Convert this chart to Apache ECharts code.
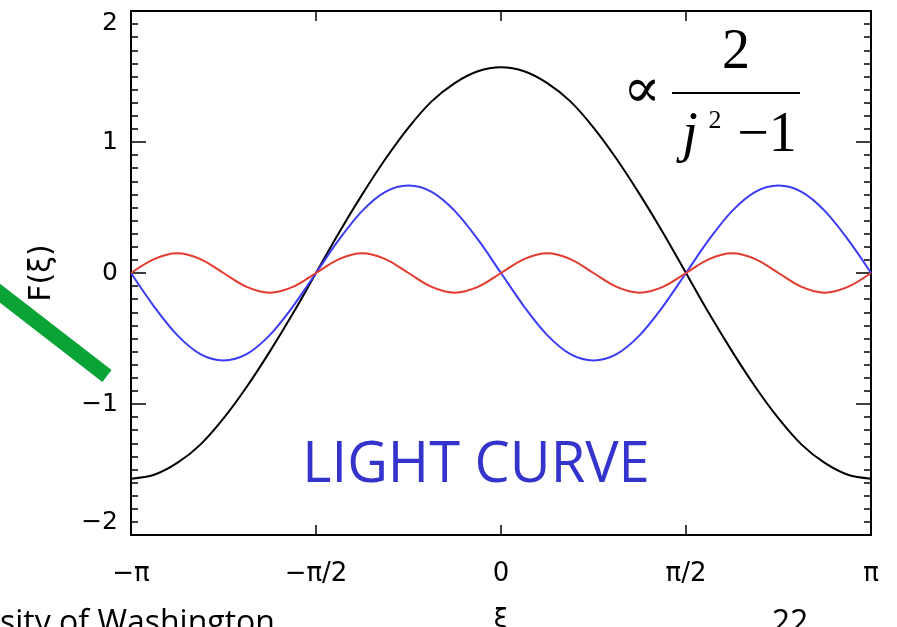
<!DOCTYPE html>
<html><head><meta charset="utf-8">
<script src="https://cdn.jsdelivr.net/npm/echarts@6/dist/echarts.min.js"></script>
<style>html,body{margin:0;padding:0;background:#fff}#c{width:897px;height:627px}</style>
</head><body><div id="c"></div>
<script>
// xi in units of pi
const xi = [-1, -0.9375, -0.875, -0.8125, -0.75, -0.6875, -0.625, -0.5625, -0.5, -0.4375, -0.375, -0.3125, -0.25, -0.1875, -0.125, -0.0625, 0,
  0.0625, 0.125, 0.1875, 0.25, 0.3125, 0.375, 0.4375, 0.5, 0.5625, 0.625, 0.6875, 0.75, 0.8125, 0.875, 0.9375, 1];
const blackVals = [-1.57, -1.54, -1.45, -1.31, -1.11, -0.87, -0.60, -0.31, 0, 0.31, 0.60, 0.87, 1.11, 1.31, 1.45, 1.54, 1.57,
  1.54, 1.45, 1.31, 1.11, 0.87, 0.60, 0.31, 0, -0.31, -0.60, -0.87, -1.11, -1.31, -1.45, -1.54, -1.57];
const blueVals = [0, -0.256, -0.474, -0.619, -0.667, -0.619, -0.474, -0.256, 0, 0.256, 0.474, 0.619, 0.667, 0.619, 0.474, 0.256, 0,
  -0.256, -0.474, -0.619, -0.667, -0.619, -0.474, -0.256, 0, 0.256, 0.474, 0.619, 0.667, 0.619, 0.474, 0.256, 0];
const redVals = [0, 0.106, 0.15, 0.106, 0, -0.106, -0.15, -0.106, 0, 0.106, 0.15, 0.106, 0, -0.106, -0.15, -0.106, 0,
  0.106, 0.15, 0.106, 0, -0.106, -0.15, -0.106, 0, 0.106, 0.15, 0.106, 0, -0.106, -0.15, -0.106, 0];
const xTickLabels = ['\u2212\u03c0', '\u2212\u03c0/2', '0', '\u03c0/2', '\u03c0'];
const yTickLabels = {'-2': '\u22122', '-1': '\u22121', '0': '0', '1': '1', '2': '2'};

const pairs = vals => xi.map((x, i) => [x, vals[i]]);
const chart = echarts.init(document.getElementById('c'));
const axisFont = '"DejaVu Sans", sans-serif';
const lineSt = {color: '#000', width: 2};
const tickSt = {color: '#000', width: 1.5};
const SM = 0.33;
chart.setOption({
  animation: false,
  backgroundColor: '#fff',
  grid: {left: 131, right: 26, top: 11, bottom: 92, containLabel: false, outerBoundsMode: 'none'},
  xAxis: [{
    type: 'value', min: -1, max: 1, interval: 0.5, position: 'bottom',
    axisLine: {show: true, onZero: false, lineStyle: lineSt},
    axisTick: {show: true, inside: true, length: 10, lineStyle: tickSt},
    splitLine: {show: false},
    axisLabel: {show: true, margin: 26, fontSize: 26, color: '#000', fontFamily: axisFont,
      showMinLabel: true, showMaxLabel: true,
      formatter: v => xTickLabels[Math.round((v + 1) * 2)]},
    name: '\u03be', nameLocation: 'middle', nameGap: 72,
    nameTextStyle: {fontSize: 26, color: '#000', fontFamily: axisFont}
  }, {
    type: 'value', min: -1, max: 1, interval: 0.5, position: 'top',
    axisLine: {show: true, onZero: false, lineStyle: lineSt},
    axisTick: {show: true, inside: true, length: 10, lineStyle: tickSt},
    splitLine: {show: false}, axisLabel: {show: false}
  }],
  yAxis: [{
    type: 'value', min: -2, max: 2, interval: 1, position: 'left',
    axisLine: {show: true, onZero: false, lineStyle: lineSt},
    axisTick: {show: true, inside: true, length: 15, lineStyle: tickSt},
    minorTick: {show: true, splitNumber: 10, length: 7, lineStyle: tickSt},
    splitLine: {show: false}, minorSplitLine: {show: false},
    axisLabel: {show: true, margin: 13, fontSize: 25, color: '#000', fontFamily: axisFont,
      showMinLabel: true, showMaxLabel: true,
      verticalAlignMaxLabel: 'top', verticalAlignMinLabel: 'bottom',
      formatter: v => yTickLabels[String(Math.round(v))]},
    name: 'F(\u03be)', nameLocation: 'middle', nameGap: 74, nameRotate: 90,
    nameTextStyle: {fontSize: 30, color: '#000', fontFamily: axisFont}
  }, {
    type: 'value', min: -2, max: 2, interval: 1, position: 'right',
    axisLine: {show: true, onZero: false, lineStyle: lineSt},
    axisTick: {show: true, inside: true, length: 15, lineStyle: tickSt},
    minorTick: {show: true, splitNumber: 10, length: 7, lineStyle: tickSt},
    splitLine: {show: false}, axisLabel: {show: false}
  }],
  series: [
    {type: 'line', name: 'j=1', data: pairs(blackVals), smooth: SM, symbol: 'none',
      xAxisIndex: 0, yAxisIndex: 0, lineStyle: {color: '#000', width: 2}},
    {type: 'line', name: 'j=2', data: pairs(blueVals), smooth: SM, symbol: 'none',
      xAxisIndex: 0, yAxisIndex: 0, lineStyle: {color: '#3c3cf5', width: 2}},
    {type: 'line', name: 'j=4', data: pairs(redVals), smooth: SM, symbol: 'none',
      xAxisIndex: 0, yAxisIndex: 0, lineStyle: {color: '#e53a2e', width: 2}}
  ],
  graphic: [
    {type: 'line', shape: {x1: -12, y1: 284, x2: 107, y2: 376},
      style: {stroke: '#0aa336', lineWidth: 15, lineCap: 'butt'}, z: 10},
    {type: 'text', x: 476, y: 466, z: 10,
      style: {text: 'LIGHT CURVE', fill: '#3434cc', font: '56px "Open Sans", sans-serif', align: 'center', verticalAlign: 'middle'}},
    {type: 'text', x: 642, y: 92, z: 10,
      style: {text: '\u221d', fill: '#000', font: '56px "DejaVu Serif", serif', align: 'center', verticalAlign: 'middle'}},
    {type: 'text', x: 736, y: 53, z: 10,
      style: {text: '2', fill: '#000', font: '56px "Liberation Serif", serif', align: 'center', verticalAlign: 'middle'}},
    {type: 'rect', shape: {x: 672, y: 92, width: 128, height: 2}, style: {fill: '#000'}, z: 10},
    {type: 'text', x: 690, y: 136, z: 10,
      style: {text: 'j', fill: '#000', font: 'italic 56px "Liberation Serif", serif', align: 'center', verticalAlign: 'middle'}},
    {type: 'text', x: 715, y: 121, z: 10,
      style: {text: '2', fill: '#000', font: '26px "Liberation Serif", serif', align: 'center', verticalAlign: 'middle'}},
    {type: 'text', x: 767, y: 136, z: 10,
      style: {text: '\u22121', fill: '#000', font: '56px "Liberation Serif", serif', align: 'center', verticalAlign: 'middle'}},
    {type: 'text', x: 0, y: 624, z: 10,
      style: {text: 'sity of Washington', fill: '#000', font: '32px "Open Sans", sans-serif', align: 'left', verticalAlign: 'middle'}},
    {type: 'text', x: 790, y: 624, z: 10,
      style: {text: '22', fill: '#000', font: '32px "Open Sans", sans-serif', align: 'center', verticalAlign: 'middle'}}
  ]
});
</script>
</body></html>
